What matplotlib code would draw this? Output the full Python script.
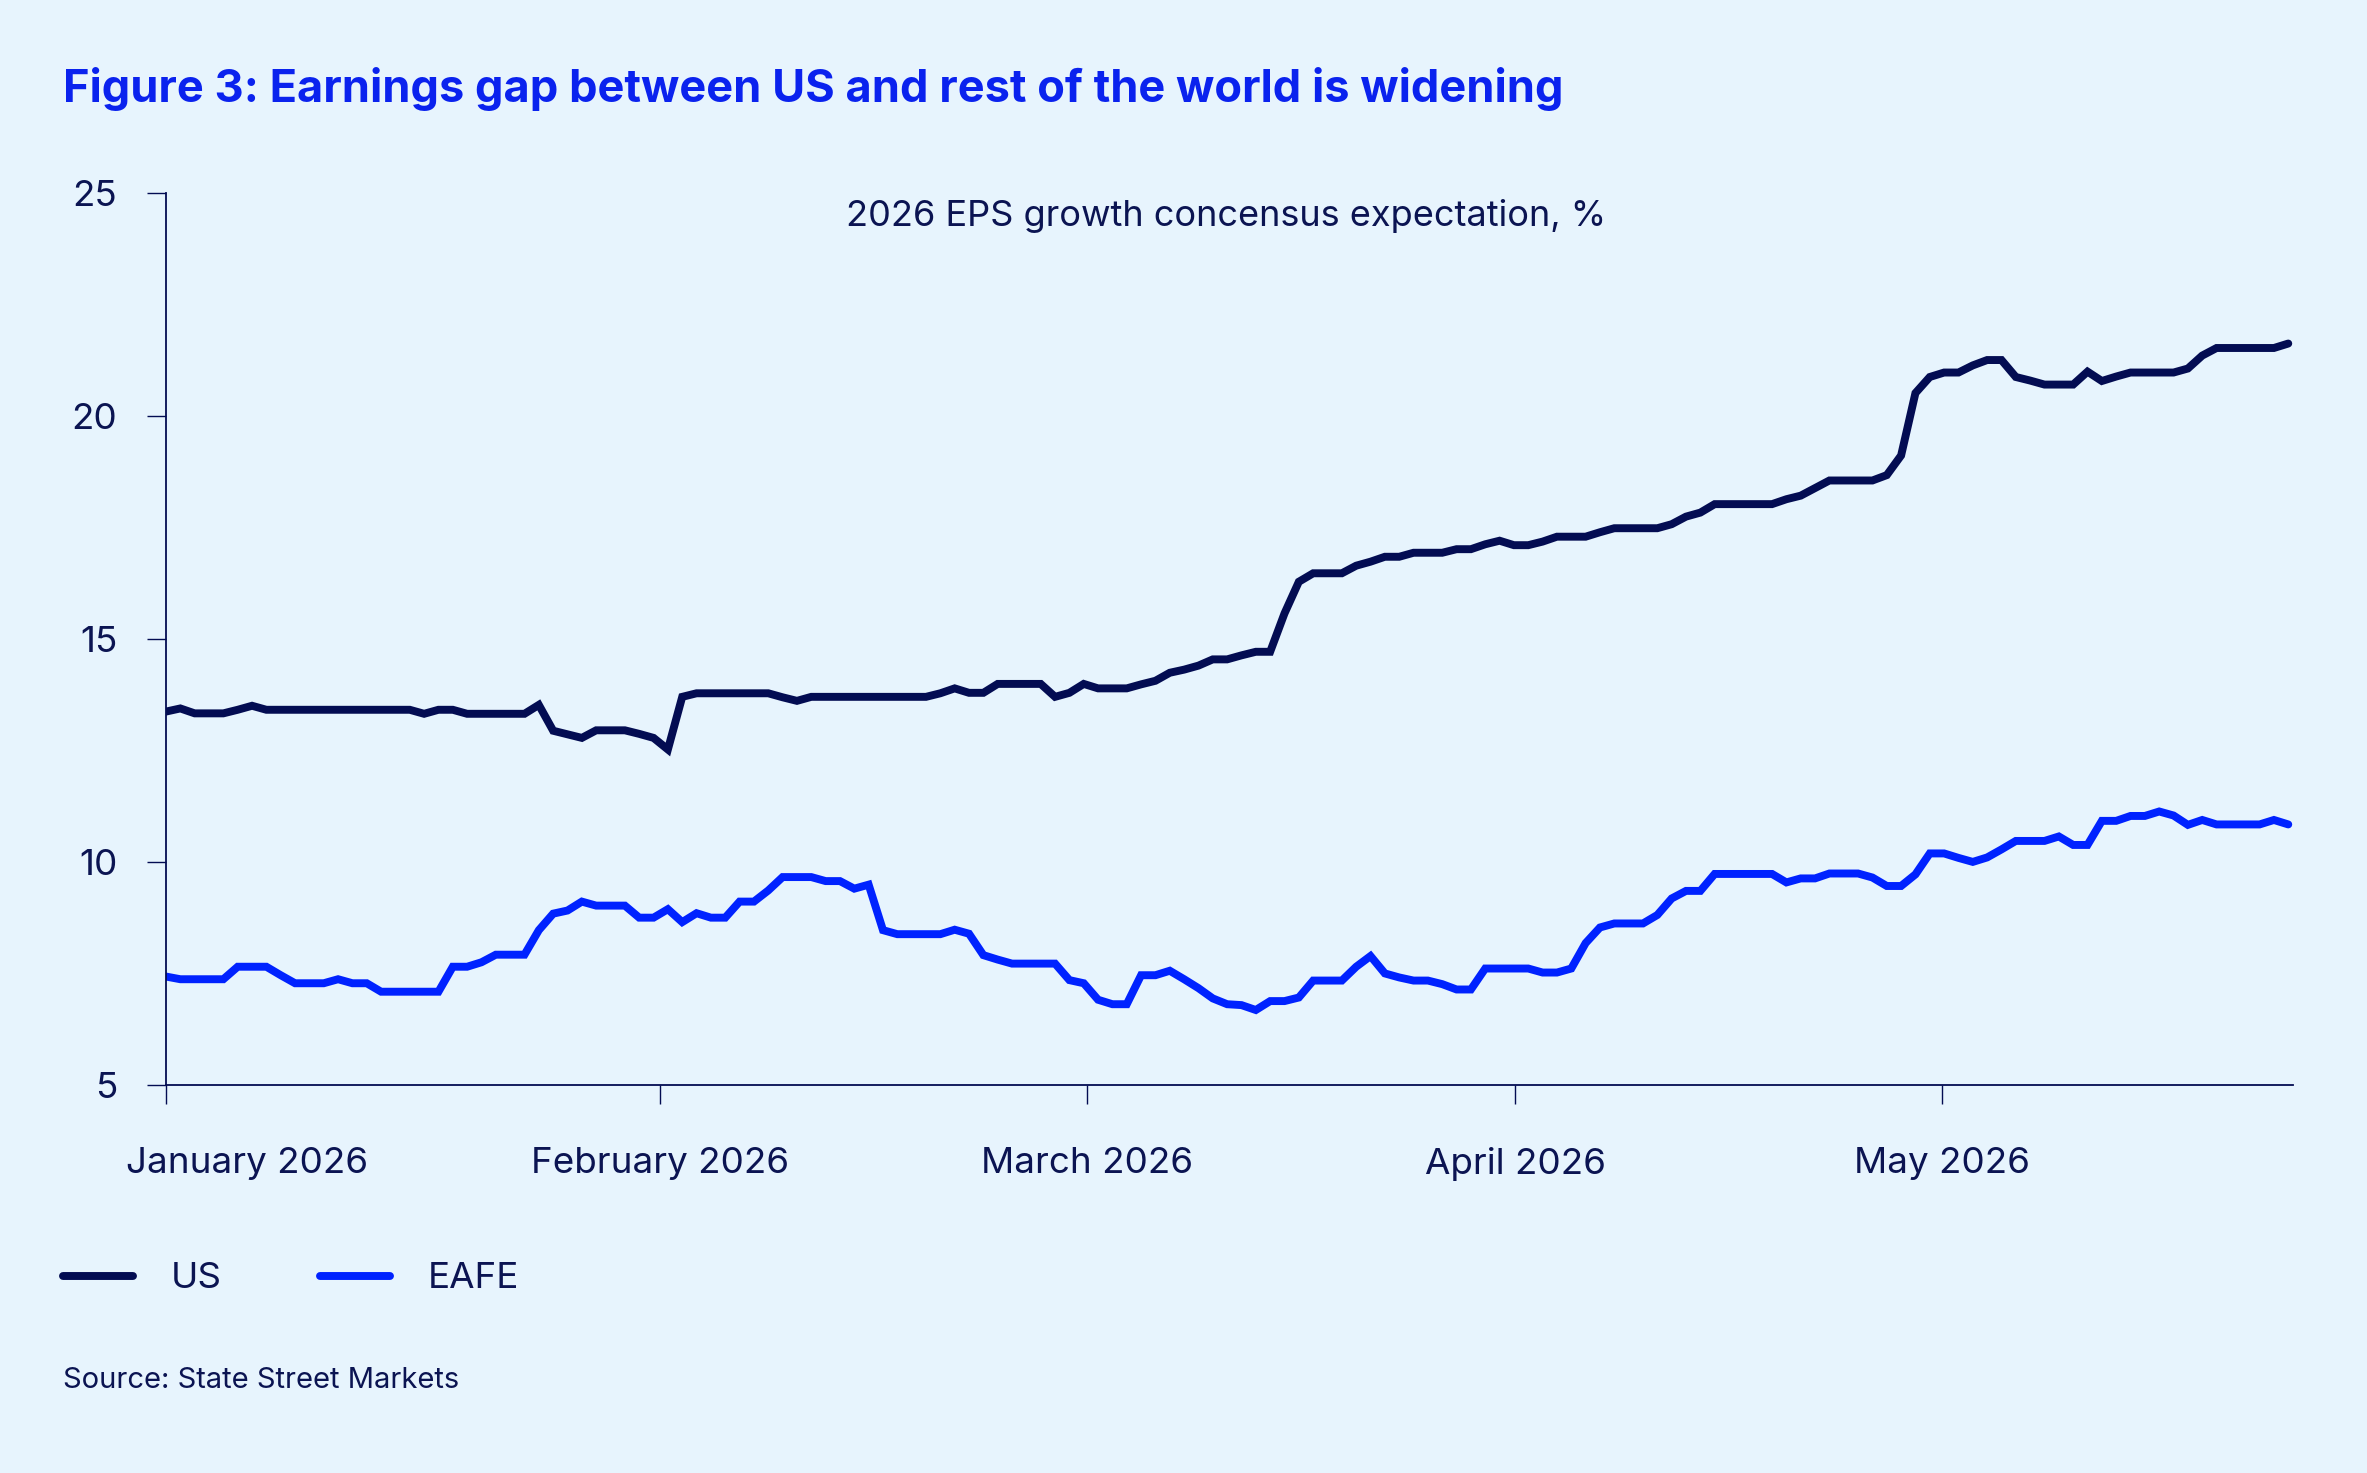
import matplotlib
matplotlib.use('Agg')
import matplotlib.pyplot as plt
from matplotlib.transforms import ScaledTranslation

# 2026 EPS growth consensus expectation, %, one value per observation
us = [13.38, 13.45, 13.34, 13.34, 13.34, 13.42, 13.51, 13.42, 13.42, 13.42,
      13.42, 13.42, 13.42, 13.42, 13.42, 13.42, 13.42, 13.42, 13.33, 13.42,
      13.42, 13.33, 13.33, 13.33, 13.33, 13.33, 13.53, 12.95, 12.87, 12.79,
      12.96, 12.96, 12.96, 12.88, 12.79, 12.53, 13.71, 13.79, 13.79, 13.79,
      13.79, 13.79, 13.79, 13.70, 13.62, 13.71, 13.71, 13.71, 13.71, 13.71,
      13.71, 13.71, 13.71, 13.71, 13.79, 13.90, 13.80, 13.80, 14.00, 14.00,
      14.00, 14.00, 13.71, 13.80, 14.00, 13.90, 13.90, 13.90, 13.99, 14.07,
      14.25, 14.32, 14.41, 14.55, 14.55, 14.64, 14.72, 14.72, 15.58, 16.29,
      16.48, 16.48, 16.48, 16.65, 16.74, 16.85, 16.85, 16.94, 16.94, 16.94,
      17.02, 17.02, 17.13, 17.21, 17.11, 17.11, 17.19, 17.30, 17.30, 17.30,
      17.40, 17.49, 17.49, 17.49, 17.49, 17.58, 17.75, 17.84, 18.03, 18.03,
      18.03, 18.03, 18.03, 18.14, 18.22, 18.39, 18.56, 18.56, 18.56, 18.56,
      18.68, 19.12, 20.52, 20.88, 20.98, 20.98, 21.14, 21.26, 21.26, 20.88,
      20.80, 20.71, 20.71, 20.71, 21.00, 20.79, 20.89, 20.98, 20.98, 20.98,
      20.98, 21.07, 21.36, 21.53, 21.53, 21.53, 21.53, 21.53, 21.63]

eafe = [7.44, 7.38, 7.38, 7.38, 7.38, 7.66, 7.66, 7.66, 7.47, 7.29,
        7.29, 7.29, 7.38, 7.29, 7.29, 7.10, 7.10, 7.10, 7.10, 7.10,
        7.66, 7.66, 7.76, 7.93, 7.93, 7.93, 8.48, 8.85, 8.92, 9.12,
        9.03, 9.03, 9.03, 8.76, 8.76, 8.95, 8.66, 8.86, 8.76, 8.76,
        9.12, 9.12, 9.37, 9.67, 9.67, 9.67, 9.58, 9.58, 9.41, 9.50,
        8.48, 8.39, 8.39, 8.39, 8.39, 8.49, 8.40, 7.92, 7.82, 7.73,
        7.73, 7.73, 7.73, 7.36, 7.29, 6.92, 6.82, 6.82, 7.47, 7.47,
        7.57, 7.38, 7.18, 6.95, 6.82, 6.80, 6.69, 6.89, 6.89, 6.97,
        7.35, 7.35, 7.35, 7.66, 7.90, 7.51, 7.42, 7.35, 7.35, 7.27,
        7.15, 7.15, 7.62, 7.62, 7.62, 7.62, 7.53, 7.53, 7.62, 8.19,
        8.54, 8.63, 8.63, 8.63, 8.82, 9.19, 9.36, 9.36, 9.74, 9.74,
        9.74, 9.74, 9.74, 9.55, 9.64, 9.64, 9.75, 9.75, 9.75, 9.66,
        9.47, 9.47, 9.73, 10.20, 10.20, 10.10, 10.01, 10.11, 10.29, 10.48,
        10.48, 10.48, 10.58, 10.39, 10.39, 10.93, 10.93, 11.04, 11.04, 11.14,
        11.05, 10.84, 10.95, 10.85, 10.85, 10.85, 10.85, 10.95, 10.85]

month_labels = ['January 2026', 'February 2026', 'March 2026', 'April 2026', 'May 2026']
month_pos = [0, 34.45, 64.2, 94.1, 123.85]   # observation index where each month starts
y_ticks = [5, 10, 15, 20, 25]

bg = '#E7F4FD'
navy = '#030C52'
blue = '#0022FF'
title_blue = '#0A22EE'
text_col = '#0B1452'

plt.rcParams['font.family'] = ['Inter', 'DejaVu Sans']

W, H = 2367, 1473
fig = plt.figure(figsize=(W / 100, H / 100), dpi=100, facecolor=bg)
ax = fig.add_axes([166 / W, 1 - 1085.4 / H, (2293 - 166) / W, (1085.4 - 193.2) / H])
ax.set_facecolor(bg)

x = list(range(len(us)))
ax.plot(x, us, color=navy, lw=5.7, solid_joinstyle='miter', solid_capstyle='round', label='US')
ax.plot(x, eafe, color=blue, lw=5.7, solid_joinstyle='miter', solid_capstyle='round', label='EAFE')

ax.set_xlim(0, 148.33)
ax.set_ylim(5, 25)

for s in ['top', 'right']:
    ax.spines[s].set_visible(False)
for s in ['left', 'bottom']:
    ax.spines[s].set_color(navy)
    ax.spines[s].set_linewidth(1.3)

ax.set_yticks(y_ticks)
ax.set_yticklabels([str(v) for v in y_ticks])
ax.set_xticks(month_pos)
ax.set_xticklabels(month_labels)
ax.tick_params(axis='y', length=14, width=1, color=navy, pad=21, labelsize=26.5, labelcolor=text_col)
ax.tick_params(axis='x', length=14, width=1, color=navy, pad=30, labelsize=26.5, labelcolor=text_col)

first = ax.get_xticklabels()[0]
first.set_transform(first.get_transform() + ScaledTranslation(0.81, 0, fig.dpi_scale_trans))

fig.text(63 / W, 1 - 89 / H, 'Figure 3: Earnings gap between US and rest of the world is widening',
         fontsize=32.5, fontweight='bold', color=title_blue, va='center', ha='left')
fig.text(1226 / W, 1 - 216 / H, '2026 EPS growth concensus expectation, %',
         fontsize=26, color=text_col, va='center', ha='center')

fig.legend(loc='center left', bbox_to_anchor=(63 / W, 1 - 1279 / H), ncol=2, frameon=False,
           fontsize=26.5, handlelength=1.9, handletextpad=1.03, columnspacing=2.66,
           borderpad=0, borderaxespad=0, labelcolor=text_col)

fig.text(63 / W, 1 - 1380 / H, 'Source: State Street Markets',
         fontsize=21, color=text_col, va='center', ha='left')

fig.savefig('out.png', dpi=100, facecolor=bg)
